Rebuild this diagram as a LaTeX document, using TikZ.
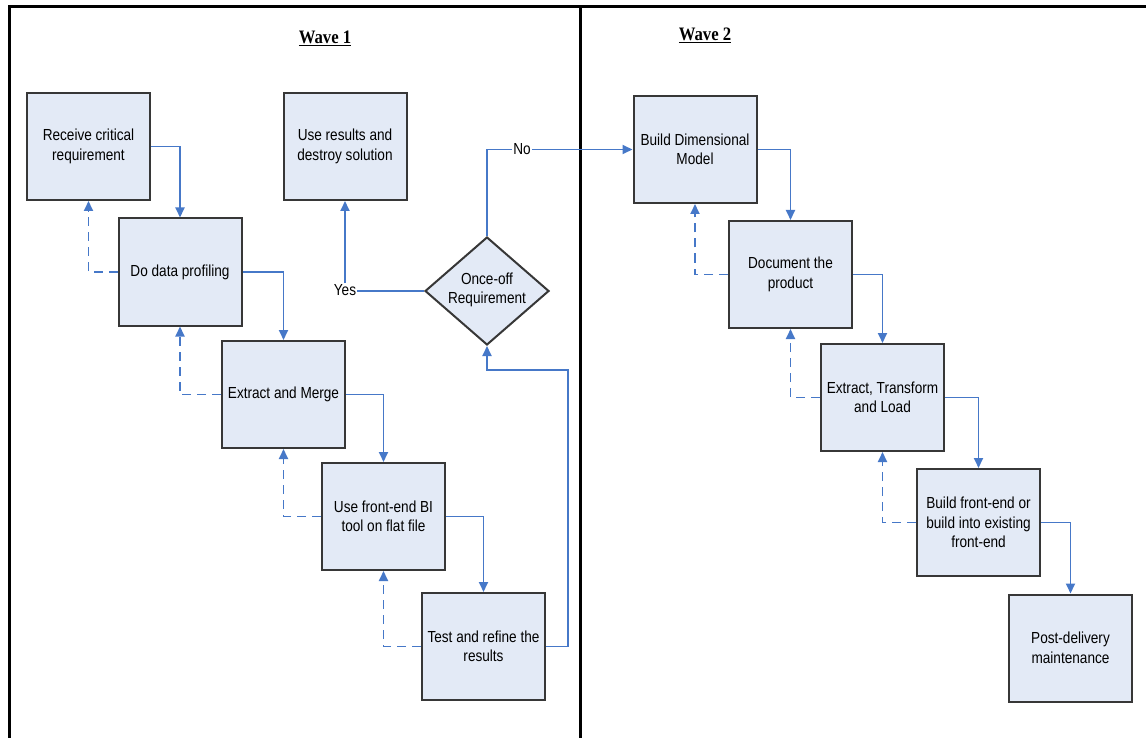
\documentclass[tikz,border=0pt]{standalone}
\usepackage{fontspec}
\newfontfamily\boxfont{Liberation Sans}[FakeStretch=0.85]
\newfontfamily\titlefont{Liberation Serif}[FakeStretch=0.88]
\usetikzlibrary{arrows.meta,shapes.geometric}
\definecolor{boxfill}{RGB}{227,234,246}
\definecolor{boxline}{RGB}{55,55,55}
\definecolor{flowblue}{RGB}{70,120,200}
\tikzset{
    stage/.style={draw=boxline,line width=2pt,fill=boxfill,minimum width=123pt,
        minimum height=107pt,inner sep=2pt,align=center,
        font=\boxfont\fontsize{16}{19.5}\selectfont},
    decision/.style={diamond,draw=boxline,line width=2pt,fill=boxfill,
        minimum width=124pt,minimum height=108pt,inner sep=0pt},
    flowtext/.style={inner sep=1pt,align=center,font=\boxfont\fontsize{16}{18.5}\selectfont},
    wavetitle/.style={font=\titlefont\bfseries\fontsize{19}{22}\selectfont},
    flow/.style={flowblue,line width=1.8pt,-{Triangle[length=10pt,width=9pt]}},
    plain/.style={flowblue,line width=1.8pt},
    back/.style={flowblue,line width=1.8pt,dash pattern=on 9pt off 6pt,-{Triangle[length=10pt,width=9pt]}},
    frame/.style={black,line width=3pt}
}
\begin{document}
\begin{tikzpicture}[x=1pt,y=-1pt]
    \useasboundingbox (0,0) rectangle (1146,738);
    \draw[frame] (9,740) -- (9,7) -- (1148,7);
    \draw[frame] (580,7) -- (580,740);
    \node[wavetitle] (w1) at (325,38) {\underline{Wave 1}};
    \node[wavetitle] (w2) at (705,35) {\underline{Wave 2}};

    \node[stage] (rcv) at (88.5,146.5) {Receive critical\\requirement};
    \node[stage] (prof) at (180,272) {Do data profiling};
    \node[stage] (merge) at (283.5,394.5) {Extract and Merge};
    \node[stage] (bi) at (383.5,516.5) {Use front-end BI\\tool on flat file};
    \node[stage] (test) at (483.5,646.5) {Test and refine the\\results};
    \node[stage] (use) at (345,146.5) {Use results and\\destroy solution};
    \node[decision] (dec) at (487,291) {};
    \node[flowtext] (dectext) at (487,290) {Once-off\\Requirement};
    \node[flowtext] (yes) at (345,290) {Yes};
    \node[flowtext] (no) at (522,149.5) {No};
    \coordinate (turn) at (568,370);

    \node[stage] (dim) at (695,149.5) {Build Dimensional\\Model};
    \node[stage] (doc) at (790.5,274.5) {Document the\\product};
    \node[stage] (etl) at (882.5,397.5) {Extract, Transform\\and Load};
    \node[stage] (fe) at (978.5,522.5) {Build front-end or\\build into existing\\front-end};
    \node[stage] (post) at (1070.5,648) {Post-delivery\\maintenance};

    \draw[flow] (rcv.east) -| (prof.north);
    \draw[flow] (prof.east) -| (merge.north);
    \draw[flow] (merge.east) -| (bi.north);
    \draw[flow] (bi.east) -| (test.north);
    \draw[back] (prof.west) -| (rcv.south);
    \draw[back] (merge.west) -| (prof.south);
    \draw[back] (bi.west) -| (merge.south);
    \draw[back] (test.west) -| (bi.south);
    \draw[flow] (test.east) -| (turn) -| (dec.south);
    \draw[plain] (dec.west) -- (dec.west -| yes.east);
    \draw[flow] (yes.north) -- (use.south);
    \draw[plain] (dec.north) |- (no.west);
    \draw[flow] (no.east) -- (dim.west);

    \draw[flow] (dim.east) -| (doc.north);
    \draw[flow] (doc.east) -| (etl.north);
    \draw[flow] (etl.east) -| (fe.north);
    \draw[flow] (fe.east) -| (post.north);
    \draw[back] (doc.west) -| (dim.south);
    \draw[back] (etl.west) -| (doc.south);
    \draw[back] (fe.west) -| (etl.south);
\end{tikzpicture}
\end{document}
